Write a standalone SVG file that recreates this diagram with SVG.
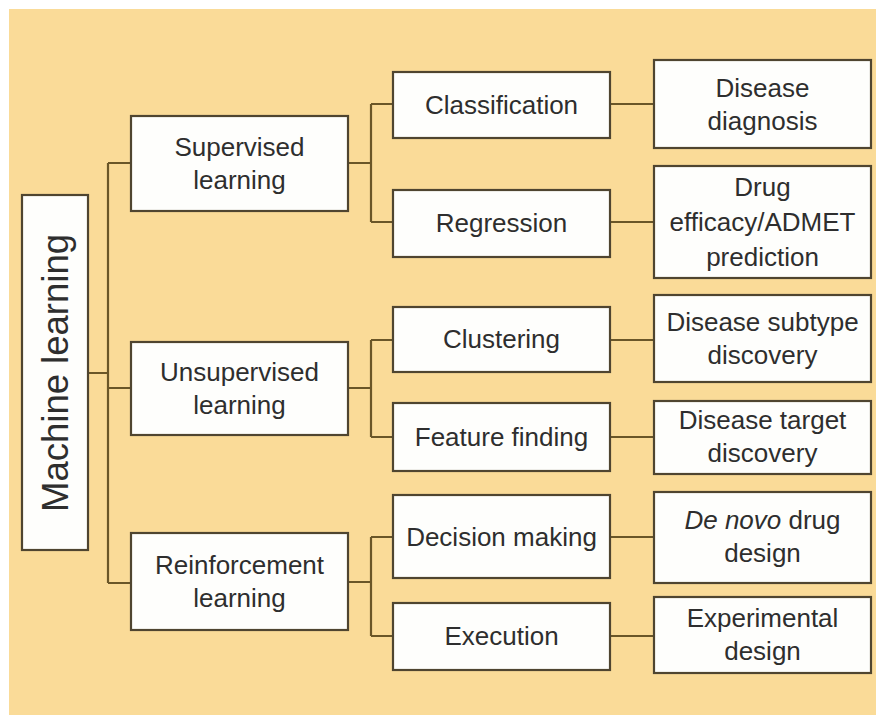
<svg xmlns="http://www.w3.org/2000/svg" width="876" height="715" viewBox="0 0 876 715">
<style>
.box{fill:#fefefc;stroke:#4f4530;stroke-width:2.2}
.t{font-family:"Liberation Sans",Arial,sans-serif;font-size:26px;fill:#2e2e2e;text-anchor:middle}
.big{font-size:36.5px}
.c{fill:none;stroke:#6a5628;stroke-width:2.2}
</style>
<rect x="0" y="0" width="876" height="715" fill="#ffffff"/>
<rect x="9" y="9" width="867" height="706" fill="#fadb98"/>
<g id="connectors">
<path class="c" d="M88 373H108M108 163V583M108 163H131M108 388H131M108 583H131"/>
<path class="c" d="M348 163H371M371 104V222M371 104H393M371 222H393"/>
<path class="c" d="M348 388H371M371 340V437M371 340H393M371 437H393"/>
<path class="c" d="M348 582H371M371 537V636M371 537H393M371 636H393"/>
<path class="c" d="M610 104H654M610 222H654M610 340H654M610 437H654M610 537H654M610 636H654"/>
</g>
<g id="ml"><rect class="box" x="22" y="195" width="66" height="355"/><text class="t big" transform="translate(68 373) rotate(-90)">Machine learning</text></g>
<g id="supervised"><rect class="box" x="131" y="116" width="217" height="95"/><text class="t" x="239.5" y="156">Supervised</text><text class="t" x="239.5" y="189">learning</text></g>
<g id="unsupervised"><rect class="box" x="131" y="342" width="217" height="93"/><text class="t" x="239.5" y="381">Unsupervised</text><text class="t" x="239.5" y="414">learning</text></g>
<g id="reinforcement"><rect class="box" x="131" y="533" width="217" height="97"/><text class="t" x="239.5" y="574">Reinforcement</text><text class="t" x="239.5" y="607">learning</text></g>
<g id="classification"><rect class="box" x="393" y="72" width="217" height="66"/><text class="t" x="501.5" y="114">Classification</text></g>
<g id="regression"><rect class="box" x="393" y="190" width="217" height="67"/><text class="t" x="501.5" y="232">Regression</text></g>
<g id="clustering"><rect class="box" x="393" y="307" width="217" height="65"/><text class="t" x="501.5" y="348">Clustering</text></g>
<g id="feature"><rect class="box" x="393" y="403" width="217" height="68"/><text class="t" x="501.5" y="446">Feature finding</text></g>
<g id="decision"><rect class="box" x="393" y="495" width="217" height="83"/><text class="t" x="501.5" y="546">Decision making</text></g>
<g id="execution"><rect class="box" x="393" y="603" width="217" height="67"/><text class="t" x="501.5" y="645">Execution</text></g>
<g id="diagnosis"><rect class="box" x="654" y="60" width="217" height="88"/><text class="t" x="762.5" y="97">Disease</text><text class="t" x="762.5" y="130">diagnosis</text></g>
<g id="drug"><rect class="box" x="654" y="166" width="217" height="112"/><text class="t" x="762.5" y="196">Drug</text><text class="t" x="762.5" y="231">efficacy/ADMET</text><text class="t" x="762.5" y="266">prediction</text></g>
<g id="subtype"><rect class="box" x="654" y="295" width="217" height="87"/><text class="t" x="762.5" y="331">Disease subtype</text><text class="t" x="762.5" y="364">discovery</text></g>
<g id="target"><rect class="box" x="654" y="401" width="217" height="73"/><text class="t" x="762.5" y="429">Disease target</text><text class="t" x="762.5" y="462">discovery</text></g>
<g id="denovo"><rect class="box" x="654" y="492" width="217" height="91"/><text class="t" x="762.5" y="529"><tspan font-style="italic">De novo</tspan> drug</text><text class="t" x="762.5" y="562">design</text></g>
<g id="experimental"><rect class="box" x="654" y="597" width="217" height="76"/><text class="t" x="762.5" y="627">Experimental</text><text class="t" x="762.5" y="660">design</text></g>
</svg>
